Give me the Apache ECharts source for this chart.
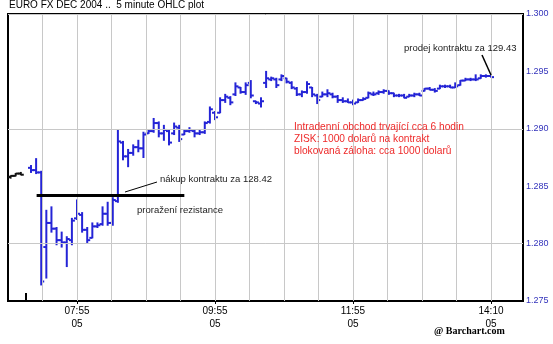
<!DOCTYPE html>
<html><head><meta charset="utf-8">
<script src="https://cdn.jsdelivr.net/npm/echarts@6/dist/echarts.min.js"></script>
<style>html,body{margin:0;padding:0;background:#fff;}#c{width:553px;height:344px;}</style>
</head><body><div id="c"></div>
<script>
// previous session bars (start at bar 0)
const prevStart = 0;
const prevOpen  = [1.2858, 1.2859, 1.2861];
const prevHigh  = [1.2859, 1.2861, 1.2862];
const prevLow   = [1.2857, 1.2859, 1.2860];
const prevClose = [1.2859, 1.2861, 1.2860];

// current session 5-minute bars (start at bar 4)
const sessStart = 4;
const open = [1.2866,1.2864,1.2862,1.2797,1.2818,1.2813,1.2803,1.2801,1.2803,1.2822,1.2825,1.2812,1.2805,1.2815,1.2817,1.2826,1.2818,1.2837,1.2888,1.2876,1.2879,1.2884,1.2883,1.2896,1.2898,1.2905,1.2896,1.2898,1.2896,1.2901,1.2895,1.2898,1.2898,1.2896,1.2897,1.2906,1.2914,1.2914,1.2925,1.2927,1.2930,1.2936,1.2932,1.2940,1.2924,1.2922,1.2940,1.2943,1.2943,1.2943,1.2944,1.2940,1.2935,1.2930,1.2932,1.2936,1.2929,1.2928,1.2930,1.2930,1.2928,1.2925,1.2924,1.2923,1.2923,1.2925,1.2927,1.2930,1.2931,1.2932,1.2933,1.2931,1.2929,1.2929,1.2928,1.2929,1.2930,1.2933,1.2935,1.2934,1.2935,1.2937,1.2937,1.2936,1.2938,1.2942,1.2943,1.2943,1.2944,1.2946,1.2946];
const high = [1.2868,1.2874,1.2863,1.2829,1.2832,1.2814,1.2810,1.2806,1.2822,1.2838,1.2827,1.2814,1.2818,1.2818,1.2832,1.2836,1.2840,1.2899,1.2889,1.2882,1.2886,1.2890,1.2897,1.2899,1.2909,1.2906,1.2903,1.2899,1.2905,1.2903,1.2899,1.2901,1.2899,1.2899,1.2906,1.2919,1.2915,1.2927,1.2930,1.2928,1.2940,1.2936,1.2940,1.2942,1.2924,1.2927,1.2950,1.2945,1.2944,1.2947,1.2944,1.2941,1.2936,1.2933,1.2941,1.2936,1.2930,1.2932,1.2934,1.2931,1.2929,1.2927,1.2926,1.2925,1.2926,1.2927,1.2932,1.2932,1.2933,1.2934,1.2933,1.2931,1.2930,1.2930,1.2930,1.2931,1.2931,1.2935,1.2936,1.2935,1.2938,1.2938,1.2938,1.2940,1.2942,1.2944,1.2944,1.2947,1.2947,1.2947,1.2946];
const low = [1.2862,1.2861,1.2764,1.2770,1.2810,1.2799,1.2797,1.2780,1.2799,1.2821,1.2810,1.2801,1.2805,1.2814,1.2816,1.2816,1.2816,1.2836,1.2873,1.2867,1.2877,1.2880,1.2875,1.2896,1.2897,1.2893,1.2890,1.2886,1.2895,1.2889,1.2895,1.2897,1.2893,1.2895,1.2896,1.2905,1.2908,1.2914,1.2923,1.2921,1.2929,1.2931,1.2930,1.2927,1.2922,1.2919,1.2936,1.2942,1.2936,1.2942,1.2940,1.2935,1.2929,1.2928,1.2931,1.2928,1.2922,1.2928,1.2928,1.2927,1.2923,1.2923,1.2923,1.2921,1.2923,1.2925,1.2927,1.2929,1.2930,1.2931,1.2930,1.2928,1.2928,1.2927,1.2928,1.2928,1.2929,1.2933,1.2934,1.2932,1.2935,1.2936,1.2936,1.2936,1.2938,1.2942,1.2942,1.2942,1.2944,1.2945,1.2945];
const close = [1.2864,1.2862,1.2767,1.2818,1.2813,1.2803,1.2801,1.2804,1.2820,1.2826,1.2812,1.2803,1.2815,1.2816,1.2826,1.2818,1.2838,1.2889,1.2876,1.2879,1.2884,1.2883,1.2895,1.2898,1.2905,1.2896,1.2899,1.2888,1.2902,1.2891,1.2898,1.2899,1.2896,1.2897,1.2905,1.2917,1.2910,1.2925,1.2928,1.2923,1.2937,1.2932,1.2938,1.2929,1.2923,1.2924,1.2944,1.2944,1.2938,1.2946,1.2941,1.2936,1.2930,1.2932,1.2939,1.2930,1.2925,1.2930,1.2931,1.2928,1.2925,1.2924,1.2923,1.2922,1.2925,1.2926,1.2931,1.2930,1.2932,1.2933,1.2931,1.2929,1.2929,1.2927,1.2929,1.2930,1.2929,1.2935,1.2934,1.2933,1.2937,1.2937,1.2936,1.2937,1.2942,1.2943,1.2943,1.2943,1.2946,1.2946,1.2945];

// x-axis tick labels (bar index -> label)
const tickBars  = [13, 40, 67, 94];
const tickTimes = ['07:55', '09:55', '11:55', '14:10'];
const tickDays  = ['05', '05', '05', '05'];
// y-axis tick labels and grid levels
const yTicks = [1.275, 1.280, 1.285, 1.290, 1.295, 1.300];
const yGrid  = [1.2775, 1.2825, 1.2875, 1.2925, 1.2975];
const xGridStep = 6.75;   // bars between vertical grid lines

// annotations
const resistance = 1.2842;   // "nákup kontraktu za 128.42"
const resistanceFrom = 5.6, resistanceTo = 34.5;
const sessionBreakBar = 3;

const BLUE = '#2424d6';
const xMax = 100.76;

function build(start, o, h, l, c) {
  const out = [];
  for (let i = 0; i < o.length; i++) out.push([start + i + 0.5, o[i], h[i], l[i], c[i]]);
  return out;
}
function makeRender(color) {
  return function (params, api) {
    const x = api.value(0);
    const pH = api.coord([x, api.value(2)]);
    const pL = api.coord([x, api.value(3)]);
    const pO = api.coord([x, api.value(1)]);
    const pC = api.coord([x, api.value(4)]);
    const t = 3;
    const st = { stroke: color, lineWidth: 2 };
    let y1 = pH[1], y2 = pL[1];
    if (Math.abs(y2 - y1) < 1) { y1 -= 0.5; y2 += 0.5; }
    return { type: 'group', children: [
      { type: 'line', shape: { x1: pH[0], y1: y1 - 0.5, x2: pL[0], y2: y2 + 0.5 }, style: st },
      { type: 'line', shape: { x1: pO[0] - t, y1: pO[1], x2: pO[0], y2: pO[1] }, style: st },
      { type: 'line', shape: { x1: pC[0], y1: pC[1], x2: pC[0] + t, y2: pC[1] }, style: st }
    ]};
  };
}

const gridX = [];
for (let v = xGridStep; v < xMax; v += xGridStep) gridX.push(v);

const chart = echarts.init(document.getElementById('c'), null, { renderer: 'canvas' });
const FONT = '"Liberation Sans", Arial, sans-serif';
const ANN = '9.5px ' + FONT;
chart.setOption({
  animation: false,
  backgroundColor: '#fff',
  grid: { left: 8, right: 30, top: 14, bottom: 43, show: true, borderColor: '#000', borderWidth: 2, backgroundColor: '#fff' },
  xAxis: {
    type: 'value', min: 0, max: xMax,
    axisLine: { show: false },
    splitLine: { show: false },
    axisTick: { show: true, customValues: tickBars.map(b => b + 0.5), length: 3, lineStyle: { color: '#000', width: 1 } },
    axisLabel: {
      customValues: tickBars.map(b => b + 0.5), margin: 4, color: '#000', fontSize: 10, lineHeight: 13, fontFamily: FONT,
      formatter: function (v) {
        for (let k = 0; k < tickBars.length; k++) if (Math.abs(v - tickBars[k] - 0.5) < 0.01) return tickTimes[k] + '\n' + tickDays[k];
        return '';
      }
    }
  },
  yAxis: {
    type: 'value', position: 'right', min: 1.275, max: 1.300, interval: 0.005,
    axisLine: { show: false }, axisTick: { show: false }, splitLine: { show: false },
    axisLabel: { customValues: yTicks, margin: 3, color: '#3333bb', fontSize: 9, fontFamily: FONT, formatter: v => v.toFixed(3) }
  },
  series: [
    {
      type: 'line', data: [], silent: true, z: 1,
      markLine: {
        silent: true, symbol: 'none', animation: false,
        label: { show: false },
        lineStyle: { color: '#c8c8c8', width: 1, type: 'solid' },
        data: gridX.map(v => ({ xAxis: v })).concat(yGrid.map(v => ({ yAxis: v })))
      }
    },
    {
      type: 'line', data: [], silent: true, z: 4,
      markLine: {
        silent: true, symbol: 'none', animation: false,
        label: { show: false },
        lineStyle: { color: '#000', width: 3, type: 'solid' },
        data: [
          [{ coord: [resistanceFrom, resistance] }, { coord: [resistanceTo, resistance] }],
          [{ coord: [sessionBreakBar + 0.5, 1.275], lineStyle: { width: 2 } }, { coord: [sessionBreakBar + 0.5, 1.2757] }]
        ]
      }
    },
    { type: 'custom', renderItem: makeRender('#111'), data: build(prevStart, prevOpen, prevHigh, prevLow, prevClose), z: 3, clip: true },
    { type: 'custom', renderItem: makeRender(BLUE), data: build(sessStart, open, high, low, close), z: 3, clip: true }
  ],
  graphic: [
    { type: 'text', left: 9, top: 0, style: { text: 'EURO FX DEC 2004 ..  5 minute OHLC plot', font: '10px ' + FONT, fill: '#000' } },
    { type: 'line', shape: { x1: 125, y1: 192, x2: 157, y2: 182 }, style: { stroke: '#000', lineWidth: 1 }, z: 10 },
    { type: 'text', x: 160, y: 179, style: { text: 'nákup kontraktu za 128.42', font: ANN, fill: '#222', verticalAlign: 'middle' }, z: 10 },
    { type: 'text', x: 137, y: 210, style: { text: 'proražení rezistance', font: ANN, fill: '#222', verticalAlign: 'middle' }, z: 10 },
    { type: 'line', shape: { x1: 482, y1: 55, x2: 491, y2: 75 }, style: { stroke: '#000', lineWidth: 1.5 }, z: 10 },
    { type: 'text', x: 404, y: 48, style: { text: 'prodej kontraktu za 129.43', font: ANN, fill: '#222', verticalAlign: 'middle' }, z: 10 },
    { type: 'text', x: 294, y: 127, style: { text: 'Intradenní obchod trvající cca 6 hodin', font: '10.2px ' + FONT, fill: '#ee2a2a', verticalAlign: 'middle' }, z: 10 },
    { type: 'text', x: 294, y: 139, style: { text: 'ZISK: 1000 dolarů na kontrakt', font: '10.2px ' + FONT, fill: '#ee2a2a', verticalAlign: 'middle' }, z: 10 },
    { type: 'text', x: 294, y: 151, style: { text: 'blokovaná záloha: cca 1000 dolarů', font: '10.2px ' + FONT, fill: '#ee2a2a', verticalAlign: 'middle' }, z: 10 },
    { type: 'text', x: 434, y: 331, style: { text: '@ Barchart.com', font: 'bold 10px "Liberation Serif", serif', fill: '#000', verticalAlign: 'middle' }, z: 10 }
  ]
});
</script></body></html>
